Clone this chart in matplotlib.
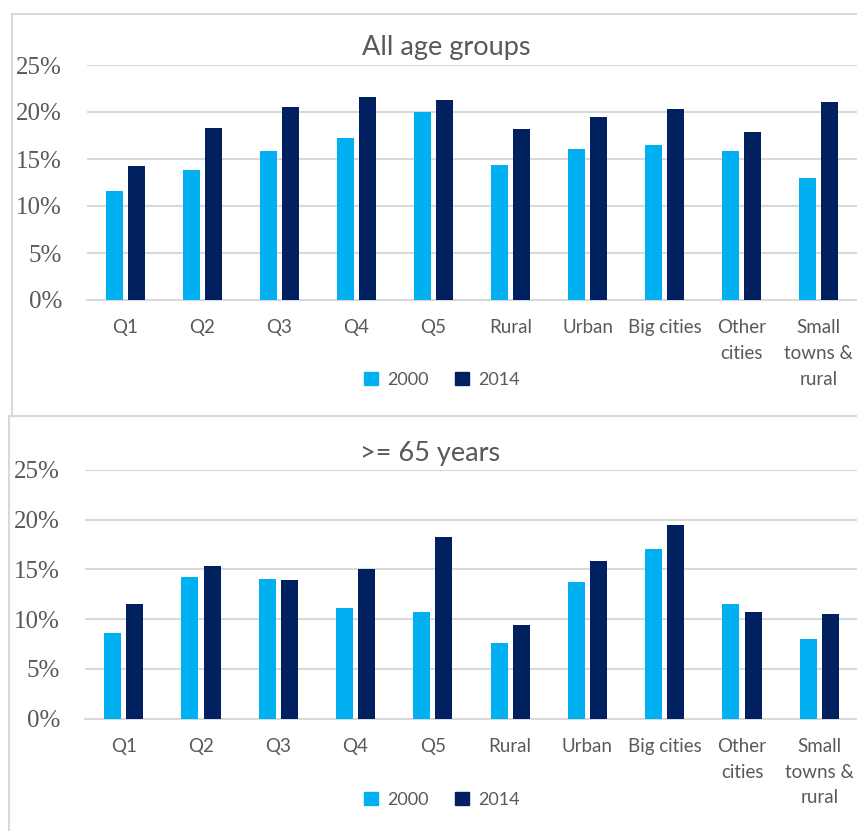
import matplotlib
matplotlib.use("Agg")
import matplotlib.pyplot as plt
from matplotlib.patches import Rectangle, Patch
import numpy as np

# data (percent)
categories = ["Q1", "Q2", "Q3", "Q4", "Q5", "Rural", "Urban", "Big cities",
              "Other\ncities", "Small\ntowns &\nrural"]
all_2000 = [11.6, 13.8, 15.9, 17.2, 20.0, 14.4, 16.1, 16.5, 15.9, 13.0]
all_2014 = [14.3, 18.3, 20.5, 21.6, 21.3, 18.2, 19.5, 20.3, 17.9, 21.1]
old_2000 = [8.6, 14.2, 14.0, 11.1, 10.7, 7.6, 13.7, 17.1, 11.5, 8.0]
old_2014 = [11.5, 15.3, 13.9, 15.0, 18.3, 9.4, 15.8, 19.5, 10.7, 10.5]
yticks = [0, 5, 10, 15, 20, 25]
ytick_labels = ["0%", "5%", "10%", "15%", "20%", "25%"]

c2000 = "#00B0F0"
c2014 = "#002060"
grid_c = "#D9D9D9"
text_c = "#595959"

W, H = 857, 831
fig = plt.figure(figsize=(W / 100, H / 100), dpi=100)

# panel borders
fig.patches.append(Rectangle((11.5 / W, 1 - 416 / H), 900 / W, 402 / H,
                             transform=fig.transFigure, fill=False,
                             edgecolor=grid_c, linewidth=1.5))
fig.patches.append(Rectangle((9 / W, -0.05), 900 / W, 1 - 416 / H + 0.05,
                             transform=fig.transFigure, fill=False,
                             edgecolor=grid_c, linewidth=1.5))


def panel(rect, v2000, v2014, title, title_x, title_y, leg_y):
    ax = fig.add_axes(rect)
    x = np.arange(len(categories))
    ax.bar(x - 0.143, v2000, width=0.22, color=c2000, zorder=3)
    ax.bar(x + 0.143, v2014, width=0.22, color=c2014, zorder=3)
    ax.set_xlim(-0.5, len(categories) - 0.5)
    ax.set_ylim(0, 25)
    ax.set_yticks(yticks)
    ax.set_yticklabels(ytick_labels, family="Liberation Serif", fontsize=18,
                       color=text_c)
    ax.set_xticks(x)
    ax.set_xticklabels(categories, family="Lato", fontsize=13.5, color=text_c,
                       linespacing=1.62, va="top")
    ax.tick_params(axis="y", length=0, pad=18)
    ax.tick_params(axis="x", length=0, pad=14)
    ax.grid(axis="y", color=grid_c, linewidth=1.5, zorder=0)
    for s in ["top", "right", "left"]:
        ax.spines[s].set_visible(False)
    ax.spines["bottom"].set_color(grid_c)
    ax.spines["bottom"].set_linewidth(1.5)
    fig.text(title_x / W, title_y, title, ha="center", va="center",
             family="Lato", fontsize=19.5, color=text_c)
    handles = [Patch(color=c2000, label="2000"), Patch(color=c2014, label="2014")]
    fig.legend(handles=handles, loc="center", bbox_to_anchor=(442 / W, leg_y),
               ncol=2, frameon=False, prop={"family": "Lato", "size": 13},
               labelcolor=text_c, handlelength=0.75, handleheight=0.75,
               handletextpad=0.5, columnspacing=1.5)
    return ax


panel([87 / W, 1 - 300 / H, 770 / W, 235 / H], all_2000, all_2014,
      "All age groups", 446, 1 - 48 / H, 1 - 380 / H)
panel([85 / W, 1 - 718.5 / H, 773 / W, 248.5 / H], old_2000, old_2014,
      ">= 65 years", 430, 1 - 453 / H, 1 - 800 / H)

fig.savefig("out.png", dpi=100)
